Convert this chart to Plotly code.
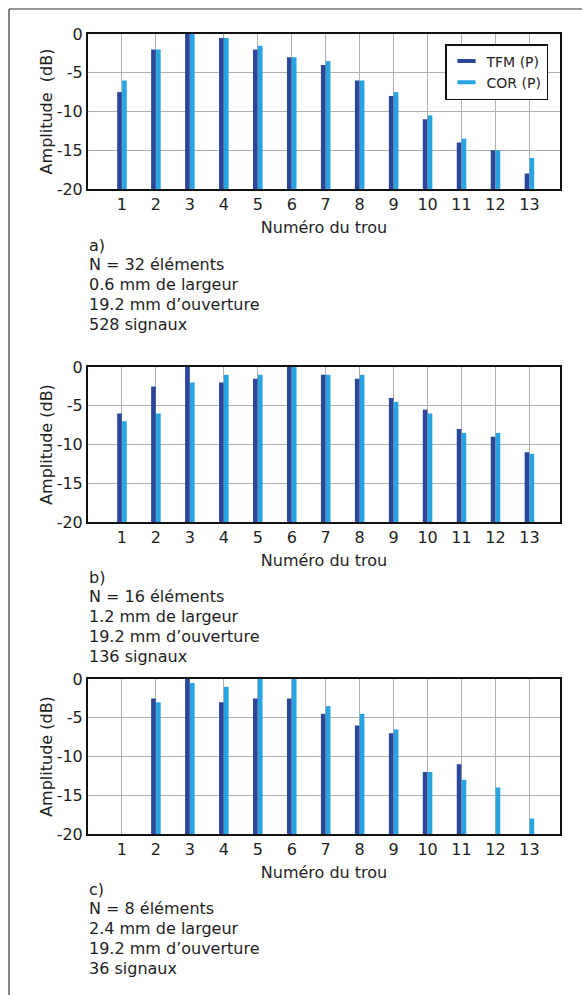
import plotly.graph_objects as go

# Hole numbers along the x axis
holes = list(range(1, 14))

# Amplitudes (dB) per hole, one pair of series per array configuration
tfm_a = [-7.5, -2, 0, -0.5, -2, -3, -4, -6, -8, -11, -14, -15, -18]
cor_a = [-6, -2, 0, -0.5, -1.5, -3, -3.5, -6, -7.5, -10.5, -13.5, -15, -16]

tfm_b = [-6, -2.5, 0, -2, -1.5, 0, -1, -1.5, -4, -5.5, -8, -9, -11]
cor_b = [-7, -6, -2, -1, -1, 0, -1, -1, -4.5, -6, -8.5, -8.5, -11.2]

tfm_c = [None, -2.5, 0, -3, -2.5, -2.5, -4.5, -6, -7, -12, -11, None, None]
cor_c = [None, -3, -0.5, -1, 0, 0, -3.5, -4.5, -6.5, -12, -13, -14, -18]

y_ticks = [0, -5, -10, -15, -20]
y_floor = -20

series_names = ["TFM (P)", "COR (P)"]
y_titles = ["Amplitude  (dB)", "Amplitude (dB)", "Amplitude (dB)"]
x_title = "Numéro du trou"

captions = [
    ["a)", "N = 32 éléments", "0.6 mm de largeur", "19.2 mm d\u2019ouverture", "528 signaux"],
    ["b)", "N = 16 éléments", "1.2 mm de largeur", "19.2 mm d\u2019ouverture", "136 signaux"],
    ["c)", "N = 8 éléments", "2.4 mm de largeur", "19.2 mm d\u2019ouverture", "36 signaux"],
]

panels = [(tfm_a, cor_a), (tfm_b, cor_b), (tfm_c, cor_c)]

DARK = "#2c4699"
LIGHT = "#27a4e2"
TEXT = "#1e1e1e"
GRID = "#b0b0b0"
FONT = "DejaVu Sans"

W, H = 582, 995

def px_y(p):
    return 1 - p / H

# Pixel rows of each plot area (top, bottom)
plot_rows = [(34, 189), (367, 522), (679, 834)]
caption_top = [245, 577, 889]
line_step = 19.8

x_dom = [88 / W, 560 / W]

fig = go.Figure()

for i, (tfm, cor) in enumerate(panels):
    xa = "x" if i == 0 else f"x{i + 1}"
    ya = "y" if i == 0 else f"y{i + 1}"
    for vals, color, name in ((tfm, DARK, series_names[0]), (cor, LIGHT, series_names[1])):
        heights = [None if v is None else v - y_floor for v in vals]
        fig.add_trace(go.Bar(
            x=holes, y=heights, base=y_floor,
            marker=dict(color=color, line=dict(width=0)),
            name=name, legendgroup=name, showlegend=False,
            customdata=vals, hovertemplate="%{x}: %{customdata} dB<extra>" + name + "</extra>",
            xaxis=xa, yaxis=ya,
        ))

# Legend entries drawn as short thick dashes
for color, name in ((DARK, series_names[0]), (LIGHT, series_names[1])):
    fig.add_trace(go.Scatter(
        x=[None], y=[None], mode="markers", name=name, legendgroup=name,
        marker=dict(symbol="line-ew", size=13, color=color, line=dict(width=4, color=color)),
        xaxis="x", yaxis="y",
    ))

layout = dict(
    width=W, height=H,
    margin=dict(l=0, r=0, t=0, b=0, pad=0, autoexpand=False),
    paper_bgcolor="white", plot_bgcolor="white",
    font=dict(family=FONT, size=16, color=TEXT),
    barmode="group", bargap=0.71, bargroupgap=0.06,
    showlegend=True,
    legend=dict(
        x=548 / W, xanchor="right", y=px_y(44), yanchor="top",
        bgcolor="white", bordercolor="#111111", borderwidth=1.5,
        font=dict(family=FONT, size=14, color=TEXT),
        itemwidth=30, tracegroupgap=0,
    ),
)

for i, (top, bot) in enumerate(plot_rows):
    sfx = "" if i == 0 else str(i + 1)
    layout["xaxis" + sfx] = dict(
        domain=x_dom, anchor="y" + sfx, range=[0, 13.9], automargin=False,
        tickmode="array", tickvals=holes, ticktext=[str(h) for h in holes],
        showgrid=True, gridcolor=GRID, gridwidth=1, zeroline=False,
        showline=True, linecolor="#111111", linewidth=2, mirror=True,
        ticks="", tickfont=dict(size=16),
        title=dict(text=x_title, standoff=9, font=dict(size=16)),
    )
    layout["yaxis" + sfx] = dict(
        domain=[px_y(bot), px_y(top)], anchor="x" + sfx, range=[y_floor, 0], automargin=False,
        tickmode="array", tickvals=y_ticks, ticktext=[str(t) for t in y_ticks],
        showgrid=True, gridcolor=GRID, gridwidth=1, zeroline=False,
        showline=True, linecolor="#111111", linewidth=2, mirror=True,
        ticks="", tickfont=dict(size=16),
        title=dict(text=y_titles[i], standoff=0, font=dict(size=16)),
    )

fig.update_layout(**layout)

# Caption blocks beneath each panel
for i, lines in enumerate(captions):
    for j, line in enumerate(lines):
        fig.add_annotation(
            x=87 / W, y=px_y(caption_top[i] + j * line_step),
            xref="paper", yref="paper", xanchor="left", yanchor="middle",
            text=line, showarrow=False, font=dict(family=FONT, size=16, color=TEXT),
        )

# Outer frame lines along the top and left edges
fig.add_shape(type="line", xref="paper", yref="paper",
              x0=9 / W, x1=1, y0=px_y(9), y1=px_y(9), line=dict(color="#333333", width=1.2))
fig.add_shape(type="line", xref="paper", yref="paper",
              x0=9 / W, x1=9 / W, y0=0, y1=px_y(9), line=dict(color="#333333", width=1.2))

fig.write_html("out.html")
